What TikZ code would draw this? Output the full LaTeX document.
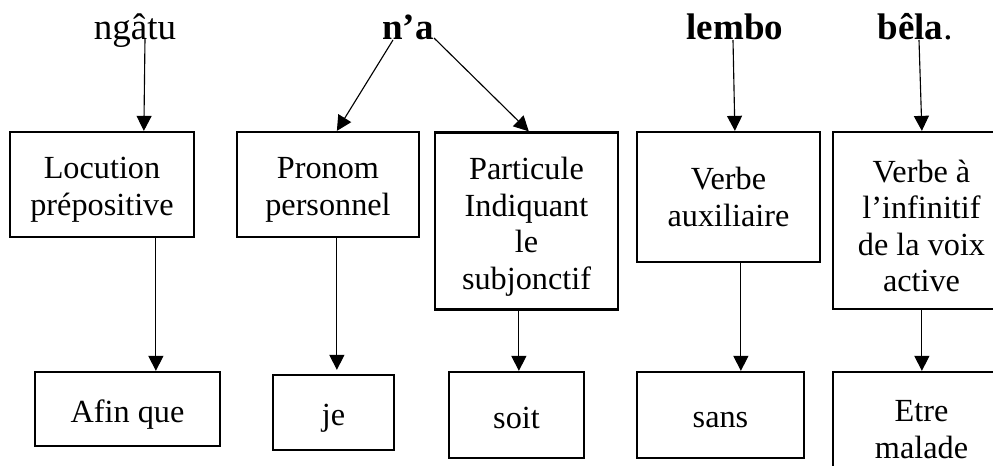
\documentclass[tikz,border=0pt]{standalone}
\usepackage{fontspec}
\setmainfont{Liberation Serif}
\usetikzlibrary{positioning,arrows.meta,calc}

\begin{document}
\begin{tikzpicture}[x=0.4pt, y=-0.4pt,
  every node/.style={font=\fontsize{12.9}{14.6}\selectfont},
  wbox/.style 2 args={draw, line width=0.9pt, inner sep=0pt,
    minimum width=#1*0.4pt, minimum height=#2*0.4pt},
  btext/.style={align=center, inner sep=0pt, yshift=-2.2pt},
  word/.style={anchor=base, inner sep=0pt, font=\fontsize{14.8}{16}\selectfont},
  arr/.style={-{Triangle[width=6pt,length=6pt]}, line width=0.45pt}]
  \clip (0,0) rectangle (993,466);
  % words of the sentence
  \node[word] (ngatu) at (135,40) {ngâtu};
  \node[word] (na)    at (408,40) {\textbf{n’a}};
  \node[word] (lembo) at (735,40) {\textbf{lembo}};
  \node[word] (bela)  at (915,40) {\textbf{bêla}.};
  % categories
  \node[wbox={184}{105}] (loc)  at (102,184.5) {};
  \node[wbox={182}{105}] (pron) at (328,184.5) {};
  \node[wbox={183}{177}] (part) at (526.5,221) {};
  \node[wbox={183}{130}] (aux)  at (728.5,197) {};
  \node[wbox={177}{177}] (inf)  at (921.5,220.5) {};
  \node[btext] (loc-t)  at (loc)  {Locution\\prépositive};
  \node[btext] (pron-t) at (pron) {Pronom\\personnel};
  \node[btext] (part-t) at (part) {Particule\\Indiquant\\le\\subjonctif};
  \node[btext, yshift=2.2pt] (aux-t) at (aux) {Verbe\\auxiliaire};
  \node[btext] (inf-t)  at (inf)  {Verbe à\\l’infinitif\\de la voix\\active};
  % translations
  \node[wbox={185}{74}]  (afin) at (127.5,409) {};
  \node[wbox={121}{75}]  (je)   at (333.5,412.5) {};
  \node[wbox={135}{86}]  (soit) at (516.5,415) {};
  \node[wbox={167}{86}]  (sans) at (720.5,415) {};
  \node[wbox={177}{114}] (etre) at (921.5,429) {};
  \node[btext] (afin-t) at (afin) {Afin que};
  \node[btext] (je-t)   at (je)   {je};
  \node[btext, yshift=1.2pt] (soit-t) at (soit) {soit};
  \node[btext] (sans-t) at (sans) {sans};
  \node[btext, yshift=2pt] (etre-t) at (etre) {Etre\\malade};
  % word -> category
  \draw[arr] ($(ngatu.base)+(10,-2)$) -- ($(loc.north west)+(135,0)$);
  \draw[arr] ($(na.base)+(-15,0)$) -- ($(pron.north west)+(101,0)$);
  \draw[arr] ($(na.base)+(26,-2)$) -- ($(part.north west)+(95,0)$);
  \draw[arr] ($(lembo.base)+(-2,0)$) -- ($(aux.north west)+(99,0)$);
  \draw[arr] ($(bela.base)+(4,0)$) -- ($(inf.north west)+(90,0)$);
  % category -> translation
  \foreach \a/\b/\dx/\gap in {loc/afin/147/0pt, pron/je/101/1.6pt, part/soit/85/0pt,
      aux/sans/105/0pt, inf/etre/90/0pt}
    \draw[arr, shorten >=\gap] ($(\a.south west)+(\dx,0)$) coordinate (s) -- (s |- \b.north);
\end{tikzpicture}
\end{document}
